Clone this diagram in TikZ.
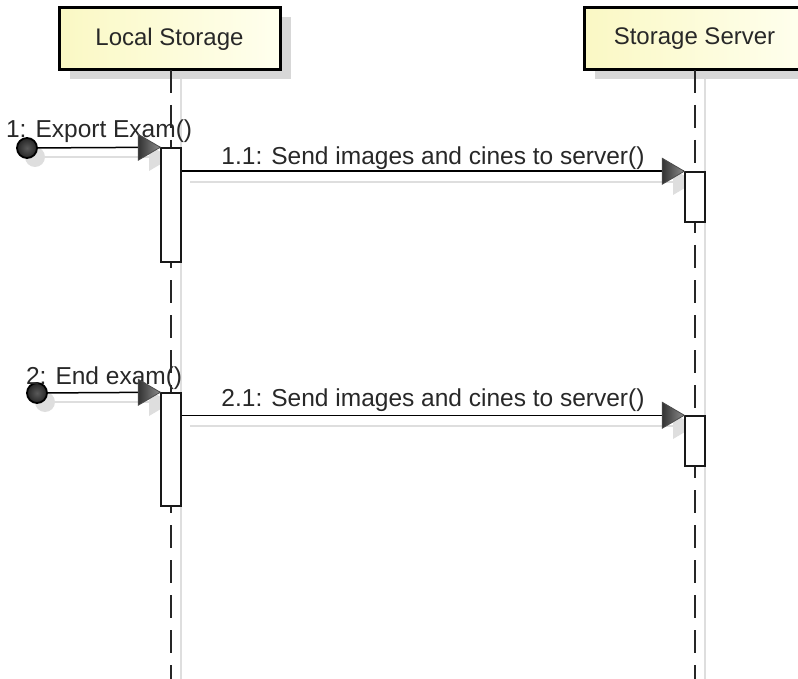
\documentclass[tikz,border=0pt]{standalone}
\usepackage{fontspec}
\setmainfont{Liberation Sans}
\definecolor{shadowgray}{RGB}{222,222,222}
\definecolor{boxshadow}{RGB}{215,215,215}
\definecolor{txt}{RGB}{40,40,40}
\definecolor{yelL}{RGB}{250,248,196}
\definecolor{yelR}{RGB}{255,255,238}
\tikzset{
  lifebox/.style={draw=black, line width=3pt, left color=yelL, right color=yelR,
    minimum width=221pt, minimum height=62pt, inner sep=0pt, text=txt,
    font=\fontsize{24}{27}\selectfont},
  boxshadow/.style={fill=boxshadow, draw=none, minimum width=221pt, minimum height=62pt},
  lifeline/.style={draw=black!85, line width=2pt, dash pattern=on 23pt off 12pt},
  lifeshadow/.style={draw=shadowgray, line width=2pt},
  actbox/.style={draw=black!90, fill=white, line width=1.5pt, minimum width=20pt, inner sep=0pt},
  msg/.style={draw=black, line width=1.5pt},
  msgshadow/.style={draw=shadowgray, line width=2pt},
  msglabel/.style={anchor=base, text=txt, font=\fontsize{24.5}{27}\selectfont, inner sep=0pt},
  startdot/.style={circle, draw=black, line width=1.8pt, inner color=gray!70!black, outer color=black!85, minimum size=20pt, inner sep=0pt},
  dotshadow/.style={circle, fill=shadowgray, minimum size=20pt, inner sep=0pt},
}
\newcommand{\arrowhead}[1]{%
  \shade[left color=black!80, right color=black!45, draw=black!70, line width=0.8pt]
    (#1) -- ++(-22,-13) -- ++(0,26) -- cycle;}
\newcommand{\arrowshadow}[1]{%
  \fill[shadowgray] ([shift={(10,10)}]#1) -- ++(-22,-13) -- ++(0,26) -- cycle;}
\begin{document}
\begin{tikzpicture}[x=1pt,y=-1pt]
\useasboundingbox (0,0) rectangle (798,679);
\clip (0,0) rectangle (798,679);
\fill[white] (0,0) rectangle (798,679);

% lifeline heads: shadows
\node[boxshadow] (lsS) at (180.5,48) {};
\node[boxshadow] (ssS) at (705,48) {};
% lifeline shadows
\coordinate (lsShTop) at (181,79);
\coordinate (lsShBot) at (181,679);
\coordinate (ssShTop) at (705,79);
\coordinate (ssShBot) at (705,679);
\draw[lifeshadow] (lsShTop) -- (lsShBot);
\draw[lifeshadow] (ssShTop) -- (ssShBot);

% heads
\node[lifebox] (ls) at (169.5,39) {Local Storage};
\node[lifebox] (ss) at (694.5,39) {Storage Server};

% lifelines
\coordinate (lsTop) at (171,70);
\coordinate (lsBot) at (171,679);
\coordinate (ssTop) at (695,70);
\coordinate (ssBot) at (695,679);
\draw[lifeline] (lsTop) -- (lsBot);
\draw[lifeline] (ssTop) -- (ssBot);

% message shadows
\node[dotshadow] (c1s) at (35,157) {};
\node[dotshadow] (c2s) at (45,402) {};
\coordinate (m1sA) at (35,157);
\coordinate (m1sB) at (165,157);
\coordinate (m11sA) at (190,182);
\coordinate (m11sB) at (690,182);
\coordinate (m2sA) at (45,402);
\coordinate (m2sB) at (165,402);
\coordinate (m21sA) at (190,426);
\coordinate (m21sB) at (690,426);
\draw[msgshadow] (m1sA) -- (m1sB);
\draw[msgshadow] (m11sA) -- (m11sB);
\draw[msgshadow] (m2sA) -- (m2sB);
\draw[msgshadow] (m21sA) -- (m21sB);

% arrow shadows (partly hidden behind activations)
\arrowshadow{171-10,148}
\arrowshadow{171-10,393}
\arrowshadow{695-10,172}
\arrowshadow{695-10,416}

% activation boxes
\node[actbox, minimum height=114pt] (a1) at (171,205) {};
\node[actbox, minimum height=50pt] (a2) at (695,197) {};
\node[actbox, minimum height=113pt] (a3) at (171,449.5) {};
\node[actbox, minimum height=50pt] (a4) at (695,441) {};

% found messages
\node[startdot] (c1) at (27,148) {};
\node[startdot] (c2) at (37,393) {};
\draw[msg] (c1) -- (a1.north west)
  node[msglabel, midway, yshift=10pt] (l1) {1: Export Exam()};
\draw[msg] (c2) -- (a3.north west)
  node[msglabel, midway, yshift=8pt] (l2) {2: End exam()};

% synchronous messages
\draw[msg] (a1.east |- a2.north west) -- (a2.north west)
  node[msglabel, midway, yshift=7pt] (l11) {1.1: Send images and cines to server()};
\draw[msg] (a3.east |- a4.north west) -- (a4.north west)
  node[msglabel, midway, yshift=9pt] (l21) {2.1: Send images and cines to server()};

% arrowheads
\arrowhead{a1.north west}
\arrowhead{a3.north west}
\arrowhead{a2.north west}
\arrowhead{a4.north west}
\end{tikzpicture}
\end{document}
